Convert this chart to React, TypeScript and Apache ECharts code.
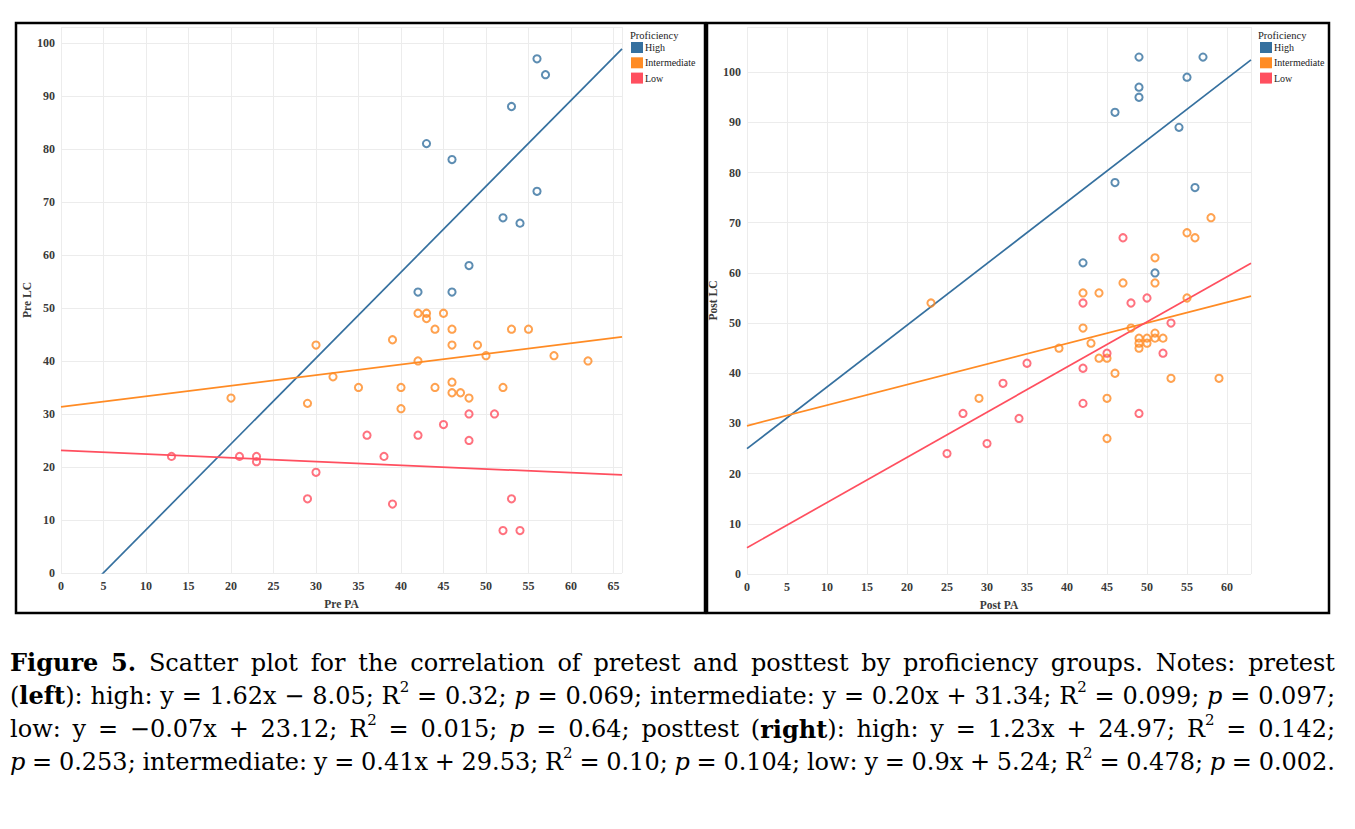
import React, { useEffect, useRef } from 'react';
import * as echarts from 'echarts';

// ---------- data ----------
const groups = ['High', 'Intermediate', 'Low'];
const groupColors = ['#35709f', '#ff8b24', '#ff4f5f'];

// Pretest (left)
const preHighX = [56, 57, 53, 43, 46, 56, 52, 54, 48, 42, 46];
const preHighY = [97, 94, 88, 81, 78, 72, 67, 66, 58, 53, 53];
const preIntX = [20, 30, 32, 29, 35, 42, 43, 43, 45, 44, 46, 53, 55, 39, 46, 49, 50, 58, 62, 42, 40, 44, 46, 46, 47, 48, 52, 40];
const preIntY = [33, 43, 37, 32, 35, 49, 49, 48, 49, 46, 46, 46, 46, 44, 43, 43, 41, 41, 40, 40, 35, 35, 36, 34, 34, 33, 35, 31];
const preLowX = [13, 21, 23, 23, 30, 29, 48, 51, 45, 36, 42, 48, 38, 39, 53, 52, 54];
const preLowY = [22, 22, 22, 21, 19, 14, 30, 30, 28, 26, 26, 25, 22, 13, 14, 8, 8];

// Posttest (right)
const postHighX = [49, 57, 55, 49, 49, 46, 54, 46, 56, 42, 51];
const postHighY = [103, 103, 99, 97, 95, 92, 89, 78, 77, 62, 60];
const postIntX = [23, 29, 58, 55, 56, 51, 47, 51, 42, 44, 55, 42, 48, 43, 39, 49, 50, 51, 51, 52, 49, 50, 49, 44, 45, 46, 53, 59, 45, 45];
const postIntY = [54, 35, 71, 68, 67, 63, 58, 58, 56, 56, 55, 49, 49, 46, 45, 47, 47, 48, 47, 47, 46, 46, 45, 43, 43, 40, 39, 39, 35, 27];
const postLowX = [25, 27, 30, 32, 34, 35, 42, 48, 50, 53, 52, 42, 42, 49, 45, 47];
const postLowY = [24, 32, 26, 38, 31, 42, 54, 54, 55, 50, 44, 41, 34, 32, 44, 67];

// Regression coefficients (from the caption)
const preSlope = [1.62, 0.2, -0.07];
const preIntercept = [-8.05, 31.34, 23.12];
const postSlope = [1.23, 0.41, 0.9];
const postIntercept = [24.97, 29.53, 5.24];

// Axis ranges / ticks
const preXRange = [0, 66];
const preYRange = [0, 103];
const postXRange = [0, 63];
const postYRange = [0, 109];
const xTickStep = 5;
const yTickStep = 10;

const axisTitles = ['Pre PA', 'Pre LC', 'Post PA', 'Post LC'];
const legendTitle = 'Proficiency';

const captionLines = [
  '**Figure** **5.** Scatter plot for the correlation of pretest and posttest by proficiency groups. Notes: pretest',
  '(**left**): high: y = 1.62x \u2212 8.05; R^2^ = 0.32; *p* = 0.069; intermediate: y = 0.20x + 31.34; R^2^ = 0.099; *p* = 0.097;',
  'low: y = \u22120.07x + 23.12; R^2^ = 0.015; *p* = 0.64; posttest (**right**): high: y = 1.23x + 24.97; R^2^ = 0.142;',
  '*p* = 0.253; intermediate: y = 0.41x + 29.53; R^2^ = 0.10; *p* = 0.104; low: y = 0.9x + 5.24; R^2^ = 0.478; *p* = 0.002.',
];

// ---------- helpers ----------
const AX_FONT = 'Liberation Serif';
const CAP_FONT = 'DejaVu Serif';
const CAP_SIZE = 24;
const SUP_SIZE = 15;

type Run = { text: string; bold: boolean; ital: boolean; sup: boolean };

function parseWord(w: string): Run[] {
  const runs: Run[] = [];
  let bold = false, ital = false, sup = false, buf = '';
  const flush = () => {
    if (buf) runs.push({ text: buf, bold, ital, sup });
    buf = '';
  };
  for (let i = 0; i < w.length; i++) {
    if (w.startsWith('**', i)) { flush(); bold = !bold; i++; continue; }
    const c = w[i];
    if (c === '*') { flush(); ital = !ital; continue; }
    if (c === '^') { flush(); sup = !sup; continue; }
    buf += c;
  }
  flush();
  return runs;
}

function buildCaption(): any[] {
  const canvas = document.createElement('canvas');
  const ctx = canvas.getContext('2d')!;
  const fontOf = (r: Run) =>
    `${r.ital ? 'italic ' : ''}${r.bold ? 'bold ' : ''}${r.sup ? SUP_SIZE : CAP_SIZE}px "${CAP_FONT}"`;
  const widthOf = (r: Run) => { ctx.font = fontOf(r); return ctx.measureText(r.text).width; };
  const left = 10, right = 1335, top = 662.7, step = 33.2;
  const els: any[] = [];
  captionLines.forEach((line, li) => {
    const words = line.split(' ').map(parseWord);
    const widths = words.map((runs) => runs.reduce((s, r) => s + widthOf(r), 0));
    const total = widths.reduce((a, b) => a + b, 0);
    const gap = Math.max(5, (right - left - total) / (words.length - 1));
    let x = left;
    const y = top + li * step;
    words.forEach((runs, wi) => {
      let rx = x;
      runs.forEach((r) => {
        els.push({
          type: 'text',
          x: rx,
          y: r.sup ? y - 9 : y,
          silent: true,
          style: {
            text: r.text,
            fontFamily: CAP_FONT,
            fontSize: r.sup ? SUP_SIZE : CAP_SIZE,
            fontWeight: r.bold ? 'bold' : 'normal',
            fontStyle: r.ital ? 'italic' : 'normal',
            fill: '#000',
            align: 'left',
            verticalAlign: 'middle',
          },
        });
        rx += widthOf(r);
      });
      x += widths[wi] + gap;
    });
  });
  return els;
}

const zip = (xs: number[], ys: number[]) => xs.map((x, i) => [x, ys[i]]);

function scatter(name: string, xs: number[], ys: number[], color: string, gi: number) {
  return {
    type: 'scatter',
    name,
    xAxisIndex: gi,
    yAxisIndex: gi,
    data: zip(xs, ys),
    symbol: 'circle',
    symbolSize: 7.2,
    itemStyle: { color: 'rgba(255,255,255,0)', borderColor: color, borderWidth: 2 },
    z: 3,
  };
}

function regLine(name: string, slope: number, intercept: number, range: number[], color: string, gi: number) {
  return {
    type: 'line',
    name,
    xAxisIndex: gi,
    yAxisIndex: gi,
    data: range.map((x) => [x, slope * x + intercept]),
    symbol: 'none',
    showSymbol: false,
    clip: true,
    lineStyle: { color, width: 1.7 },
    itemStyle: { color },
    silent: true,
    z: 2,
  };
}

const labelStyle = { fontFamily: AX_FONT, fontSize: 12, fontWeight: 'bold', color: '#3a3a3a' };
const nameStyle = { fontFamily: AX_FONT, fontSize: 11.5, fontWeight: 'bold', color: '#3a3a3a' };
const splitLine = { show: true, lineStyle: { color: '#ececec', width: 1 } };

function xAxis(gi: number, range: number[], name: string) {
  return {
    type: 'value', gridIndex: gi, min: range[0], max: range[1], interval: xTickStep,
    name, nameLocation: 'middle', nameGap: 25, nameTextStyle: nameStyle,
    axisLine: { show: false }, axisTick: { show: false },
    axisLabel: { ...labelStyle, margin: 7, showMaxLabel: false },
    splitLine,
  };
}
function yAxis(gi: number, range: number[], name: string) {
  return {
    type: 'value', gridIndex: gi, min: range[0], max: range[1], interval: yTickStep,
    name, nameLocation: 'middle', nameGap: 27, nameTextStyle: nameStyle,
    axisLine: { show: false }, axisTick: { show: false },
    axisLabel: { ...labelStyle, margin: 6, showMaxLabel: false },
    splitLine,
  };
}

function legend(left: number) {
  return {
    left, top: 42, padding: 0, orient: 'vertical', icon: 'rect', itemWidth: 12, itemHeight: 11, itemGap: 4.3,
    selectedMode: false,
    textStyle: { fontFamily: AX_FONT, fontSize: 10, color: '#222', padding: [0, 0, 0, -3] },
    data: groups.map((g, i) => ({ name: g, icon: 'rect', itemStyle: { color: groupColors[i], borderWidth: 0 } })),
  };
}

function buildOption() {
  const preX = [preHighX, preIntX, preLowX];
  const preY = [preHighY, preIntY, preLowY];
  const postX = [postHighX, postIntX, postLowX];
  const postY = [postHighY, postIntY, postLowY];
  const series: any[] = [];
  groups.forEach((g, i) => {
    series.push(regLine(g, preSlope[i], preIntercept[i], preXRange, groupColors[i], 0));
    series.push(scatter(g, preX[i], preY[i], groupColors[i], 0));
    series.push(regLine(g, postSlope[i], postIntercept[i], postXRange, groupColors[i], 1));
    series.push(scatter(g, postX[i], postY[i], groupColors[i], 1));
  });
  return {
    animation: false,
    backgroundColor: '#ffffff',
    grid: [
      { left: 61, top: 27, width: 561, height: 546 },
      { left: 747, top: 27, width: 504, height: 547 },
    ],
    xAxis: [xAxis(0, preXRange, axisTitles[0]), xAxis(1, postXRange, axisTitles[2])],
    yAxis: [yAxis(0, preYRange, axisTitles[1]), yAxis(1, postYRange, axisTitles[3])],
    legend: [legend(631), legend(1260)],
    series,
    graphic: [
      { type: 'rect', shape: { x: 16, y: 23, width: 689, height: 590 }, style: { fill: 'none', stroke: '#000', lineWidth: 2.5 }, silent: true },
      { type: 'rect', shape: { x: 707, y: 23, width: 622, height: 590 }, style: { fill: 'none', stroke: '#000', lineWidth: 2.5 }, silent: true },
      { type: 'text', x: 630, y: 35, style: { text: legendTitle, fontFamily: AX_FONT, fontSize: 10.5, fill: '#222', verticalAlign: 'middle' }, silent: true },
      { type: 'text', x: 1258, y: 35, style: { text: legendTitle, fontFamily: AX_FONT, fontSize: 10.5, fill: '#222', verticalAlign: 'middle' }, silent: true },
      ...buildCaption(),
    ],
  };
}

export default function App() {
  const ref = useRef<HTMLDivElement>(null);
  useEffect(() => {
    if (!ref.current) return;
    const chart = echarts.init(ref.current, null, { renderer: 'svg' });
    chart.setOption(buildOption() as any);
    return () => chart.dispose();
  }, []);
  return (
    <div
      ref={ref}
      style={{ position: 'absolute', left: 0, top: 0, width: 1355, height: 829, background: '#fff' }}
    />
  );
}
